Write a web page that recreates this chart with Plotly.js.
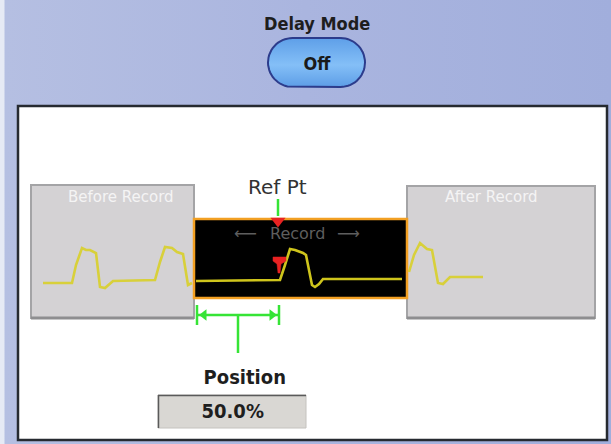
<!DOCTYPE html>
<html>
<head>
<meta charset="utf-8">
<script src="https://cdn.plot.ly/plotly-3.0.1.min.js"></script>
<style>
  html, body { margin: 0; padding: 0; }
  #chart {
    width: 611px; height: 444px;
    background: linear-gradient(90deg, #e6eaf5 0px, #e6eaf5 4px, #b5bfe2 5px, #aab5df 50%, #a1aedc 100%);
  }
  g.annotation[data-index="0"] text,
  g.annotation[data-index="1"] text,
  g.annotation[data-index="6"] text,
  g.annotation[data-index="7"] text { font-stretch: condensed; }
</style>
</head>
<body>
<div id="chart"></div>
<script>
// ---- Waveform data (screen units of the diagram) ----
var beforeX = [43, 72, 76, 82, 86, 90, 96, 100, 105, 110, 113, 155, 160, 165, 172, 177, 183, 188, 192];
var beforeY = [283, 283, 265, 248, 250, 250, 253, 287, 288, 284, 281, 280, 262, 247, 248, 252, 254, 285, 283];

var recordX = [196, 280, 285, 290, 295, 303, 306, 312, 315, 319, 323, 402];
var recordY = [281, 280, 265, 249, 250, 253, 255, 285, 287, 284, 279, 279];

var afterX = [409, 414, 420, 427, 432, 438, 443, 450, 483];
var afterY = [272, 255, 243, 249, 250, 283, 284, 277, 277];

// ---- Labels ----
var titleText = "Delay Mode";
var buttonText = "Off";
var beforeLabel = "Before Record";
var afterLabel = "After Record";
var recordLabel = "Record";
var leftArrow = "\u27F5";
var rightArrow = "\u27F6";
var refLabel = "Ref Pt";
var positionLabel = "Position";
var positionValue = "50.0%";

var narrowBold = "DejaVu Sans, Liberation Sans, sans-serif";
var plain = "DejaVu Sans, sans-serif";

// pill button outline
var btn = {cx: 316.5, cy: 62.5, w: 97, h: 49};
var pillX = [], pillY = [];
(function () {
  var r = btn.h / 2, left = btn.cx - btn.w / 2 + r, right = btn.cx + btn.w / 2 - r;
  for (var i = 0; i <= 30; i++) { var a = -Math.PI / 2 + Math.PI * i / 30; pillX.push(right + r * Math.cos(a)); pillY.push(btn.cy + r * Math.sin(a)); }
  for (var j = 0; j <= 30; j++) { var b = Math.PI / 2 + Math.PI * j / 30; pillX.push(left + r * Math.cos(b)); pillY.push(btn.cy + r * Math.sin(b)); }
  pillX.push(pillX[0]); pillY.push(pillY[0]);
})();

var wave = {color: "#d8d03a", width: 2.6};
var green = "#36e436";

var traces = [
  {x: pillX, y: pillY, mode: "lines", fill: "toself",
   fillgradient: {type: "vertical", colorscale: [[0, "#5d9de6"], [0.45, "#84bff7"], [1, "#5e9fe8"]]},
   line: {color: "#2c3c8c", width: 2}, hoverinfo: "skip"},
  {x: beforeX, y: beforeY, mode: "lines", line: wave, hoverinfo: "skip"},
  {x: recordX, y: recordY, mode: "lines", line: {color: "#cfc51c", width: 2.6}, hoverinfo: "skip"},
  {x: afterX, y: afterY, mode: "lines", line: wave, hoverinfo: "skip"},
  // green position markers
  {x: [197, 279], y: [315, 315], mode: "lines", line: {color: green, width: 2.5}, hoverinfo: "skip"},
  {x: [238, 238], y: [315, 353], mode: "lines", line: {color: green, width: 2.5}, hoverinfo: "skip"},
  {x: [197, 197, null, 279, 279], y: [305, 325, null, 305, 325], mode: "lines", line: {color: green, width: 2.5}, hoverinfo: "skip"},
  {x: [204, 272], y: [315, 315], mode: "markers", marker: {symbol: ["triangle-left", "triangle-right"], size: 10, color: green}, hoverinfo: "skip"},
  // ref pt marker
  {x: [278, 278], y: [199, 216], mode: "lines", line: {color: green, width: 2.5}, hoverinfo: "skip"},
  {x: [278], y: [221], mode: "markers", marker: {symbol: "triangle-down", size: 13, color: "#e82222"}, hoverinfo: "skip"}
];

var shapes = [
  // white panel
  {type: "rect", x0: 18, x1: 607, y0: 106, y1: 440, fillcolor: "#ffffff", line: {color: "#262a30", width: 2.5}, layer: "below"},
  // before / after boxes
  {type: "rect", x0: 31, x1: 194, y0: 185, y1: 318, fillcolor: "#d4d2d4", line: {color: "#a4a4a6", width: 2}, layer: "below"},
  {type: "line", x0: 31, x1: 194, y0: 318, y1: 318, line: {color: "#8e8e90", width: 3}, layer: "below"},
  {type: "rect", x0: 407, x1: 595, y0: 186, y1: 318, fillcolor: "#d4d2d4", line: {color: "#a4a4a6", width: 2}, layer: "below"},
  {type: "line", x0: 407, x1: 595, y0: 318, y1: 318, line: {color: "#8e8e90", width: 3}, layer: "below"},
  // record box
  {type: "rect", x0: 194, x1: 407, y0: 219, y1: 298, fillcolor: "#000000", line: {color: "#f2a023", width: 2.5}, layer: "below"},
  // trigger marker
  {type: "path", path: "M273,257 L286,257 L286,261 L281,264 L280,273 L278,273 L277,264 L273,261 Z",
   fillcolor: "#e82222", line: {color: "#e82222", width: 0.5}, layer: "above"},
  // position value box
  {type: "rect", x0: 158, x1: 306, y0: 395, y1: 428, fillcolor: "#d9d7d3", line: {color: "#c4c2be", width: 1}, layer: "below"},
  {type: "line", x0: 158, x1: 306, y0: 395.5, y1: 395.5, line: {color: "#5a5a5a", width: 1.5}, layer: "below"},
  {type: "line", x0: 158.5, x1: 158.5, y0: 395, y1: 428, line: {color: "#5a5a5a", width: 1.5}, layer: "below"}
];

function ann(x, y, text, size, color, family) {
  return {x: x, y: y, xref: "x", yref: "y", text: text, showarrow: false,
          xanchor: "center", yanchor: "middle", font: {size: size, color: color, family: family}};
}

var annotations = [
  ann(316.5, 23, "<b>" + titleText + "</b>", 18, "#1e1e1e", narrowBold),
  ann(316.5, 63, "<b>" + buttonText + "</b>", 18, "#1a1a1a", narrowBold),
  ann(121, 197, beforeLabel, 15, "#f4f4f4", plain),
  ann(491, 197, afterLabel, 15, "#f4f4f4", plain),
  ann(297, 233, recordLabel, 16, "#5e5e5e", plain),
  ann(277, 187, refLabel, 20, "#333333", plain),
  ann(244.5, 377, "<b>" + positionLabel + "</b>", 20, "#1e1e1e", narrowBold),
  ann(232.5, 411, "<b>" + positionValue + "</b>", 20, "#1e1e1e", narrowBold),
  ann(245, 233, leftArrow, 16, "#5e5e5e", plain),
  ann(348, 233, rightArrow, 16, "#5e5e5e", plain)
];

var layout = {
  width: 611, height: 444,
  margin: {l: 0, r: 0, t: 0, b: 0, pad: 0},
  paper_bgcolor: "rgba(0,0,0,0)",
  plot_bgcolor: "rgba(0,0,0,0)",
  showlegend: false,
  xaxis: {range: [0, 611], visible: false, fixedrange: true},
  yaxis: {range: [444, 0], visible: false, fixedrange: true},
  shapes: shapes,
  annotations: annotations
};

Plotly.newPlot("chart", traces, layout, {displayModeBar: false, staticPlot: true});
</script>
</body>
</html>
